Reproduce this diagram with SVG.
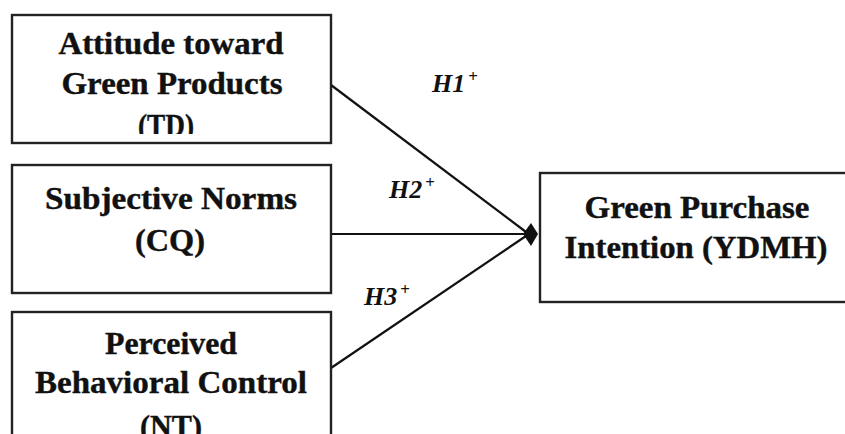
<svg xmlns="http://www.w3.org/2000/svg" width="845" height="434" viewBox="0 0 845 434">
<style>
.box{fill:#fff;stroke:#222;stroke-width:2.4}
.t{font-family:"Liberation Serif","Times New Roman",serif;font-weight:bold;font-size:31px;fill:#111;text-anchor:middle;stroke:#111;stroke-width:0.4}
.h{font-family:"Liberation Serif","Times New Roman",serif;font-weight:bold;font-style:italic;font-size:26px;fill:#111}
.sup{font-size:17px;font-style:normal}
.c{stroke:#111;stroke-width:2.2;fill:none}
</style>
<defs>
<clipPath id="clip1"><rect x="12" y="15" width="320" height="119"/></clipPath>
</defs>
<rect width="845" height="434" fill="#fff"/>
<g id="connectors">
<line class="c" x1="331" y1="85" x2="526" y2="232"/>
<line class="c" x1="331" y1="234" x2="526" y2="234"/>
<line class="c" x1="331" y1="368" x2="526" y2="236"/>
<polygon points="523,234 531,223 538,234 531,246" fill="#111"/>
</g>
<g id="node-td">
<rect class="box" x="12" y="15" width="319" height="128"/>
<g clip-path="url(#clip1)">
<text class="t" x="171" y="54" textLength="225" lengthAdjust="spacingAndGlyphs">Attitude toward</text>
<text class="t" x="172" y="94" textLength="221" lengthAdjust="spacingAndGlyphs">Green Products</text>
<text class="t" x="166" y="136" textLength="56" lengthAdjust="spacingAndGlyphs">(TD)</text>
</g>
</g>
<g id="node-cq">
<rect class="box" x="12" y="165" width="319" height="128"/>
<text class="t" x="171" y="209" textLength="252" lengthAdjust="spacingAndGlyphs">Subjective Norms</text>
<text class="t" x="170" y="251" textLength="70" lengthAdjust="spacingAndGlyphs">(CQ)</text>
</g>
<g id="node-nt">
<rect class="box" x="12" y="312" width="319" height="140"/>
<text class="t" x="171" y="354" textLength="132" lengthAdjust="spacingAndGlyphs">Perceived</text>
<text class="t" x="171" y="393" textLength="272" lengthAdjust="spacingAndGlyphs">Behavioral Control</text>
<text class="t" x="171" y="437" textLength="62" lengthAdjust="spacingAndGlyphs">(NT)</text>
</g>
<g id="node-ydmh">
<rect class="box" x="540" y="173" width="320" height="129"/>
<text class="t" x="697" y="218" textLength="225" lengthAdjust="spacingAndGlyphs">Green Purchase</text>
<text class="t" x="696" y="258" textLength="263" lengthAdjust="spacingAndGlyphs">Intention (YDMH)</text>
</g>
<g id="labels">
<text class="h" x="432" y="92">H1<tspan class="sup" dx="3" dy="-10">+</tspan></text>
<text class="h" x="389" y="198">H2<tspan class="sup" dx="3" dy="-10">+</tspan></text>
<text class="h" x="364" y="305">H3<tspan class="sup" dx="3" dy="-10">+</tspan></text>
</g>
</svg>
